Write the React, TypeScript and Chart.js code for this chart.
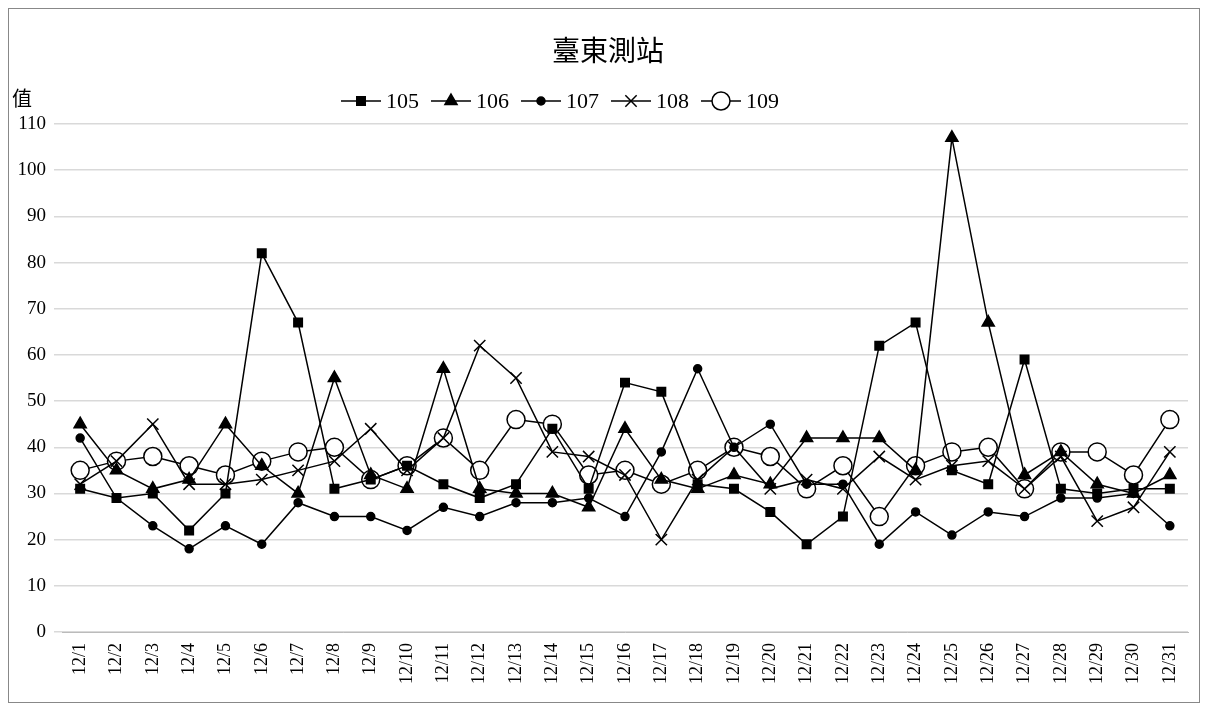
import React, { useEffect, useRef } from "react";
import { Chart, registerables } from "chart.js";
import { drawPoint } from "chart.js/helpers";
Chart.register(...registerables);

const categories = Array.from({ length: 31 }, (_, i) => `12/${i + 1}`);
const seriesNames = ["105", "106", "107", "108", "109"];
const s105 = [31,29,30,22,30,82,67,31,33,36,32,29,32,44,31,54,52,32,31,26,19,25,62,67,35,32,59,31,30,31,31];
const s106 = [45,35,31,33,45,36,30,55,34,31,57,31,30,30,27,44,33,31,34,32,42,42,42,35,107,67,34,39,32,30,34];
const s107 = [42,29,23,18,23,19,28,25,25,22,27,25,28,28,29,25,39,57,40,45,32,32,19,26,21,26,25,29,29,30,23];
const s108 = [32,37,45,32,32,33,35,37,44,35,42,62,55,39,38,34,20,33,40,31,33,31,38,33,36,37,31,38,24,27,39];
const s109 = [35,37,38,36,34,37,39,40,33,36,42,35,46,45,34,35,32,35,40,38,31,36,25,36,39,40,31,39,39,34,46];
const yTicks = [0,10,20,30,40,50,60,70,80,90,100,110];

const styles: any[] = [
  { pointStyle: "rect", pointRadius: 6, pointBackgroundColor: "#000" },
  { pointStyle: "triangle", pointRadius: 7, pointBackgroundColor: "#000" },
  { pointStyle: "circle", pointRadius: 4, pointBackgroundColor: "#000" },
  { pointStyle: "crossRot", pointRadius: 8, pointBackgroundColor: "#000" },
  { pointStyle: "circle", pointRadius: 9, pointBackgroundColor: "#fff" },
];

const SERIF = "'Liberation Serif', 'DejaVu Serif', 'Noto Sans CJK TC', serif";

export default function App() {
  const ref = useRef<HTMLCanvasElement>(null);
  useEffect(() => {
    const data = [s105, s106, s107, s108, s109];
    const deco = {
      id: "deco",
      afterDraw(c: any) {
        const ctx = c.ctx as CanvasRenderingContext2D;
        ctx.save();
        ctx.strokeStyle = "#888"; ctx.lineWidth = 1;
        ctx.strokeRect(0.5, 0.5, c.width - 1, c.height - 1);
        ctx.fillStyle = "#000";
        ctx.textAlign = "center"; ctx.textBaseline = "middle";
        ctx.font = `28px ${SERIF}`;
        ctx.fillText("臺東測站", 600, 46);
        ctx.font = `20px ${SERIF}`;
        ctx.fillText("值", 14, 93);
        let x = 333; const y = 93;
        ctx.font = `22px ${SERIF}`; ctx.textAlign = "left";
        seriesNames.forEach((n, i) => {
          ctx.strokeStyle = "#000"; ctx.lineWidth = 1.5;
          ctx.beginPath(); ctx.moveTo(x, y); ctx.lineTo(x + 40, y); ctx.stroke();
          const st = styles[i];
          ctx.fillStyle = st.pointBackgroundColor;
          drawPoint(ctx, { pointStyle: st.pointStyle, radius: st.pointRadius, borderWidth: 1.5, rotation: 0 } as any, x + 20, y);
          ctx.fillStyle = "#000";
          ctx.fillText(n, x + 45, y + 1);
          x += 45 + ctx.measureText(n).width + 12;
        });
        ctx.restore();
      },
    };
    const chart = new Chart(ref.current!, {
      type: "line",
      data: {
        labels: categories,
        datasets: data.map((d, i) => ({
          label: seriesNames[i],
          data: d,
          borderColor: "#000",
          borderWidth: 1.5,
          pointBorderColor: "#000",
          pointBorderWidth: 1.5,
          ...styles[i],
        })),
      },
      options: {
        animation: false,
        responsive: false,
        layout: { padding: { top: 116, right: 12, left: 0, bottom: 0 } },
        plugins: { legend: { display: false }, tooltip: { enabled: false } },
        scales: {
          x: {
            offset: true,
            grid: { display: false },
            border: { color: "#bbb" },
            ticks: { minRotation: 90, maxRotation: 90, color: "#000", font: { family: SERIF, size: 18 } },
            afterFit: (s: any) => { s.height = 71; },
          },
          y: {
            min: 0, max: 110,
            afterBuildTicks: (s: any) => { s.ticks = yTicks.map((v) => ({ value: v })); },
            grid: { color: "#d9d9d9", lineWidth: 1.5 },
            border: { display: false },
            ticks: { color: "#000", font: { family: SERIF, size: 19 }, padding: 8 },
            afterFit: (s: any) => { s.width = 54; },
          },
        },
      },
      plugins: [deco],
    });
    return () => chart.destroy();
  }, []);
  return <canvas ref={ref} width={1192} height={695} style={{ display: "block" }} />;
}
